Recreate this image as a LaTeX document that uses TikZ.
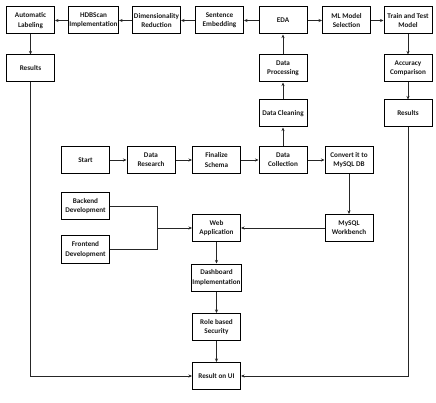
\documentclass[tikz,border=0pt]{standalone}
\usepackage{fontspec}
\setmainfont{Carlito}
\usetikzlibrary{arrows.meta}
\begin{document}
\begin{tikzpicture}[x=1pt,y=-1pt,
  box/.style={draw=black,line width=1pt,minimum width=48pt,minimum height=27pt,inner sep=1pt,align=center,font=\bfseries\fontsize{7.2}{9.3}\selectfont,text=black!90},
  conn/.style={draw=black!85,line width=0.9pt,-{Stealth[length=3.5pt,width=3pt]}},
  plain/.style={draw=black!85,line width=0.9pt}]
\useasboundingbox (0,0) rectangle (436,403);
\fill[white] (0,0) rectangle (436,403);
% top row
\node[box] (al) at (30.5,20.5) {Automatic\\Labeling};
\node[box] (hdb) at (93.5,20.5) {HDBScan\\Implementation};
\node[box] (dr) at (156.5,20.5) {Dimensionality\\Reduction};
\node[box] (se) at (219.5,20.5) {Sentence\\Embedding};
\node[box] (eda) at (283,20.5) {EDA};
\node[box] (ml) at (346.5,20.5) {ML Model\\Selection};
\node[box] (tt) at (408,20.5) {Train and Test\\Model};
% second / third rows
\node[box] (resl) at (30.5,68.5) {Results};
\node[box] (dp) at (283,68.5) {Data\\Processing};
\node[box] (dc) at (283,113.5) {Data Cleaning};
\node[box] (ac) at (408,68.5) {Accuracy\\Comparison};
\node[box] (resr) at (408,113.5) {Results};
% middle row
\node[box] (start) at (85.5,160) {Start};
\node[box] (dres) at (151,160) {Data\\Research};
\node[box] (fs) at (216.5,160) {Finalize\\Schema};
\node[box] (dcol) at (283,160) {Data\\Collection};
\node[box] (conv) at (349,160) {Convert it to\\MySQL DB};
% lower part
\node[box] (bd) at (85.5,206) {Backend\\Development};
\node[box] (fd) at (85.5,249.5) {Frontend\\Development};
\node[box] (wa) at (216.5,228) {Web\\Application};
\node[box] (mw) at (349,228) {MySQL\\Workbench};
\node[box] (di) at (216.5,277.5) {Dashboard\\Implementation};
\node[box] (rs) at (216.5,327) {Role based\\Security};
\node[box] (rui) at (216.5,376) {Result on UI};
\coordinate (j) at (157,228);
% connectors
\draw[conn] (se) -- (dr);
\draw[conn] (dr) -- (hdb);
\draw[conn] (hdb) -- (al);
\draw[conn] (eda) -- (se);
\draw[conn] (eda) -- (ml);
\draw[conn] (ml) -- (tt);
\draw[conn] (tt) -- (ac);
\draw[conn] (ac) -- (resr);
\draw[conn] (al) -- (resl);
\draw[conn] (resl.south) |- (rui.west);
\draw[conn] (resr.south) |- (rui.east);
\draw[conn] (dcol) -- (dc);
\draw[conn] (dc) -- (dp);
\draw[conn] (dp) -- (eda);
\draw[conn] (start) -- (dres);
\draw[conn] (dres) -- (fs);
\draw[conn] (fs) -- (dcol);
\draw[conn] (dcol) -- (conv);
\draw[conn] (conv) -- (mw);
\draw[conn] (mw) -- (wa);
\draw[plain] (bd.east) -| (j);
\draw[plain] (fd.east) -| (j);
\draw[conn] (j) -- (wa.west);
\draw[conn] (wa) -- (di);
\draw[conn] (di) -- (rs);
\draw[conn] (rs) -- (rui);
\end{tikzpicture}
\end{document}
